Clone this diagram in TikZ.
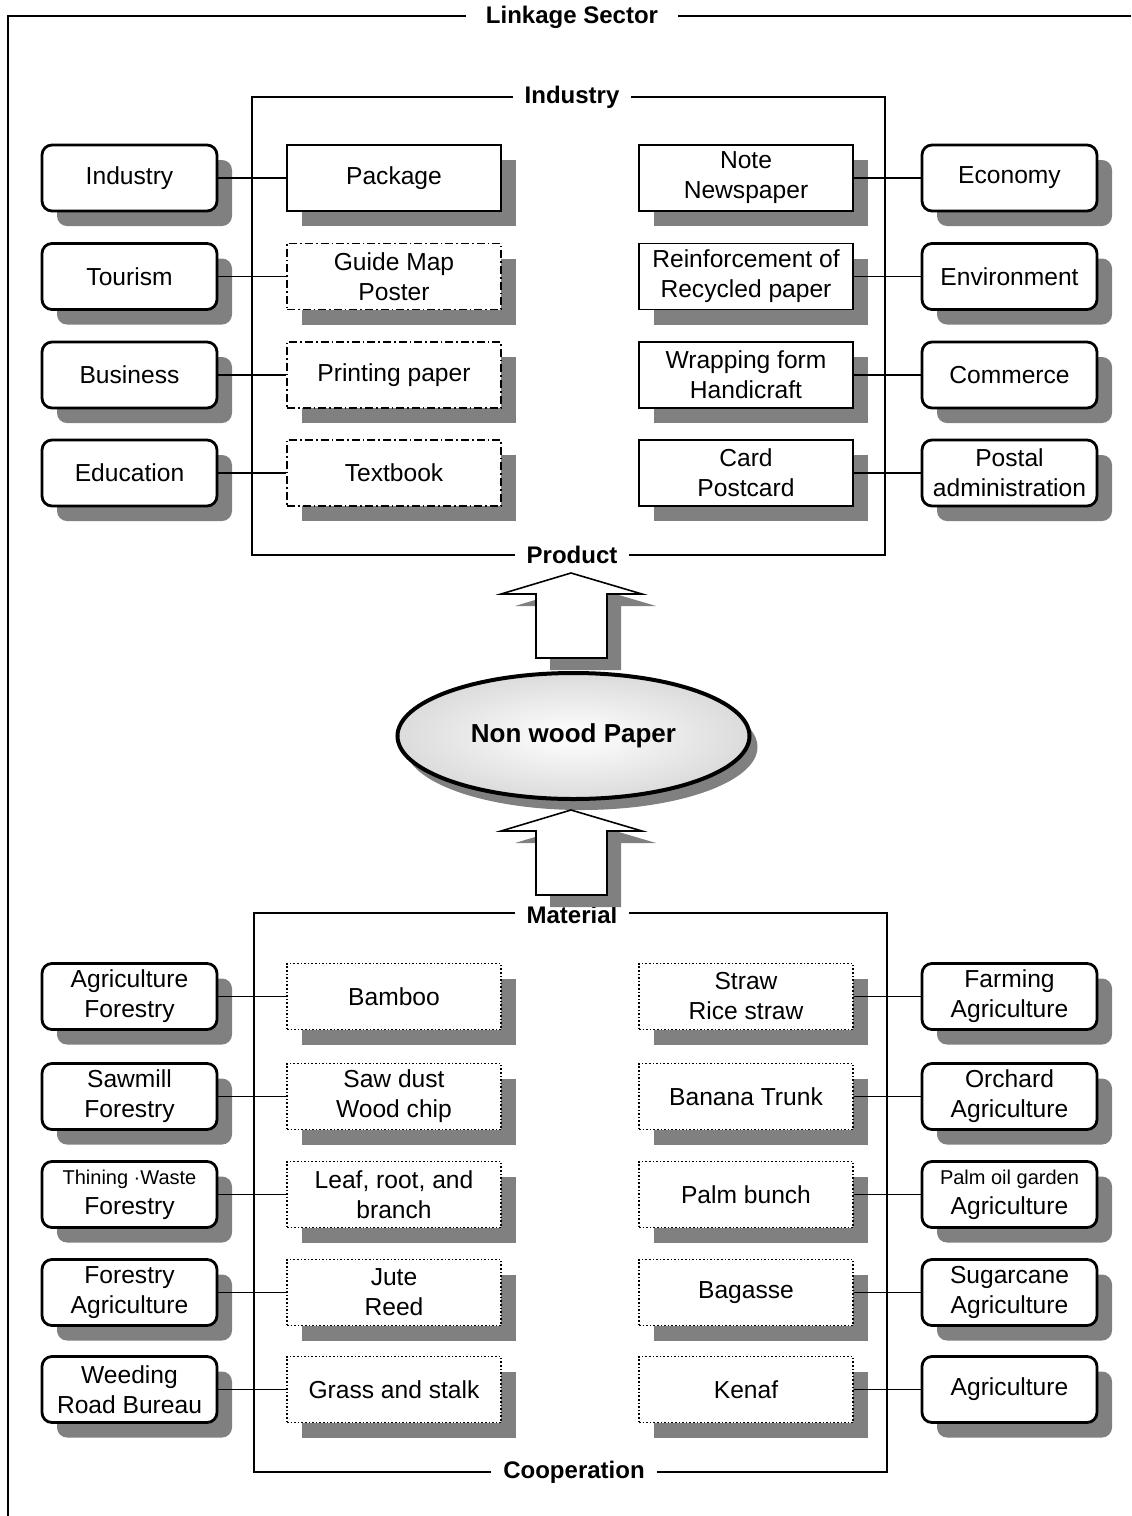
\documentclass[tikz,border=0pt]{standalone}
\usepackage{fontspec}
\setmainfont{Liberation Sans}
\usetikzlibrary{shapes.geometric,shadows}
\definecolor{shadowgray}{gray}{0.5}
\begin{document}
\begin{tikzpicture}[x=0.5pt,y=-0.5pt,
  base/.style={align=center, inner sep=0pt, font=\fontsize{12.3}{15}\selectfont},
  boxshadow/.style={drop shadow={shadow xshift=7.5pt, shadow yshift=-7.5pt, opacity=1, fill=shadowgray}},
  sector/.style={base, draw, line width=1.4pt, rounded corners=5pt, fill=white,
    minimum width=87.5pt, minimum height=33pt, boxshadow},
  item/.style={base, draw, line width=0.75pt, fill=white,
    minimum width=107pt, minimum height=33pt, boxshadow},
  solidbox/.style={item},
  dashdotbox/.style={item, line width=0.85pt, dash pattern=on 4pt off 1.5pt on 0.8pt off 1.5pt},
  dotbox/.style={item, line width=0.85pt, dash pattern=on 0.8pt off 1pt},
  frame/.style={line width=0.8pt},
  link/.style={line width=0.8pt},
  title/.style={fill=white, inner xsep=6pt, inner ysep=1pt,
    font=\bfseries\fontsize{12}{14}\selectfont},
  bigarrow/.style={draw, fill=white, line width=0.8pt, line join=miter}
]
\useasboundingbox (0,0) rectangle (1131,1516);

% outer frame
\draw[frame] (1131,16) -- (8,16) -- (8,1516);
\node[title, inner xsep=10pt] (linkage) at (572,17) {Linkage Sector};

% product frame
\draw[frame] (252,97) rectangle (885,555);
\node[title] (tindustry) at (572,97) {Industry};
\node[title] (tproduct) at (572,555) {Product};

% material frame
\draw[frame] (254,913) rectangle (887,1472);
\node[title] (tmaterial) at (572,915) {Material};
\node[title] (tcoop) at (574,1472) {Cooperation};

% ---------- product side ----------
\node[sector] (sa1) at (129.5,178) {Industry};
\node[sector] (sa2) at (129.5,276.5) {Tourism};
\node[sector] (sa3) at (129.5,375) {Business};
\node[sector] (sa4) at (129.5,473) {Education};

\node[solidbox]   (pa1) at (394,178) {Package};
\node[dashdotbox] (pa2) at (394,276.5) {Guide Map\\Poster};
\node[dashdotbox] (pa3) at (394,375) {Printing paper};
\node[dashdotbox] (pa4) at (394,473) {Textbook};

\node[solidbox] (pb1) at (746,178) {Note\\Newspaper};
\node[solidbox] (pb2) at (746,276.5) {Reinforcement of\\Recycled paper};
\node[solidbox] (pb3) at (746,375) {Wrapping form\\Handicraft};
\node[solidbox] (pb4) at (746,473) {Card\\Postcard};

\node[sector] (sb1) at (1009.5,178) {Economy};
\node[sector] (sb2) at (1009.5,276.5) {Environment};
\node[sector] (sb3) at (1009.5,375) {Commerce};
\node[sector] (sb4) at (1009.5,473) {Postal\\administration};

\foreach \i in {1,...,4} {
  \draw[link] (sa\i.east) -- (pa\i.west);
  \draw[link] (pb\i.east) -- (sb\i.west);
}

% ---------- central arrows and ellipse ----------
\fill[shadowgray, xshift=7pt, yshift=-6pt]
  (571,573) -- (642,594) -- (607,594) -- (607,658) -- (536,658) -- (536,594) -- (501,594) -- cycle;
\draw[bigarrow]
  (571,573) -- (642,594) -- (607,594) -- (607,658) -- (536,658) -- (536,594) -- (501,594) -- cycle;

\node[ellipse, draw, line width=2pt, minimum width=176pt, minimum height=63pt, inner sep=0pt,
  shading=radial, inner color=white, outer color=black!14,
  drop shadow={shadow xshift=4pt, shadow yshift=-5.5pt, opacity=1, fill=shadowgray},
  font=\bfseries\fontsize{13}{15}\selectfont] (paper) at (573.5,736) {Non wood Paper};

\fill[shadowgray, xshift=7pt, yshift=-6pt]
  (571,810) -- (642,831) -- (607,831) -- (607,895) -- (536,895) -- (536,831) -- (501,831) -- cycle;
\draw[bigarrow]
  (571,810) -- (642,831) -- (607,831) -- (607,895) -- (536,895) -- (536,831) -- (501,831) -- cycle;

% ---------- material side ----------
\node[sector] (sc1) at (129.5,996.5) {Agriculture\\Forestry};
\node[sector] (sc2) at (129.5,1096.5) {Sawmill\\Forestry};
\node[sector] (sc3) at (129.5,1194.5) {{\fontsize{10}{12}\selectfont Thining ·Waste}\\Forestry};
\node[sector] (sc4) at (129.5,1292.5) {Forestry\\Agriculture};
\node[sector] (sc5) at (129.5,1389.5) {Weeding\\Road Bureau};

\node[dotbox] (mc1) at (394,996.5) {Bamboo};
\node[dotbox] (mc2) at (394,1096.5) {Saw dust\\Wood chip};
\node[dotbox] (mc3) at (394,1194.5) {Leaf, root, and\\branch};
\node[dotbox] (mc4) at (394,1292.5) {Jute\\Reed};
\node[dotbox] (mc5) at (394,1389.5) {Grass and stalk};

\node[dotbox] (md1) at (746,996.5) {Straw\\Rice straw};
\node[dotbox] (md2) at (746,1096.5) {Banana Trunk};
\node[dotbox] (md3) at (746,1194.5) {Palm bunch};
\node[dotbox] (md4) at (746,1292.5) {Bagasse};
\node[dotbox] (md5) at (746,1389.5) {Kenaf};

\node[sector] (sd1) at (1009.5,996.5) {Farming\\Agriculture};
\node[sector] (sd2) at (1009.5,1096.5) {Orchard\\Agriculture};
\node[sector] (sd3) at (1009.5,1194.5) {{\fontsize{10}{12}\selectfont Palm oil garden}\\Agriculture};
\node[sector] (sd4) at (1009.5,1292.5) {Sugarcane\\Agriculture};
\node[sector] (sd5) at (1009.5,1389.5) {Agriculture};

\foreach \i in {1,...,5} {
  \draw[link] (sc\i.east) -- (mc\i.west);
  \draw[link] (md\i.east) -- (sd\i.west);
}
\end{tikzpicture}
\end{document}
